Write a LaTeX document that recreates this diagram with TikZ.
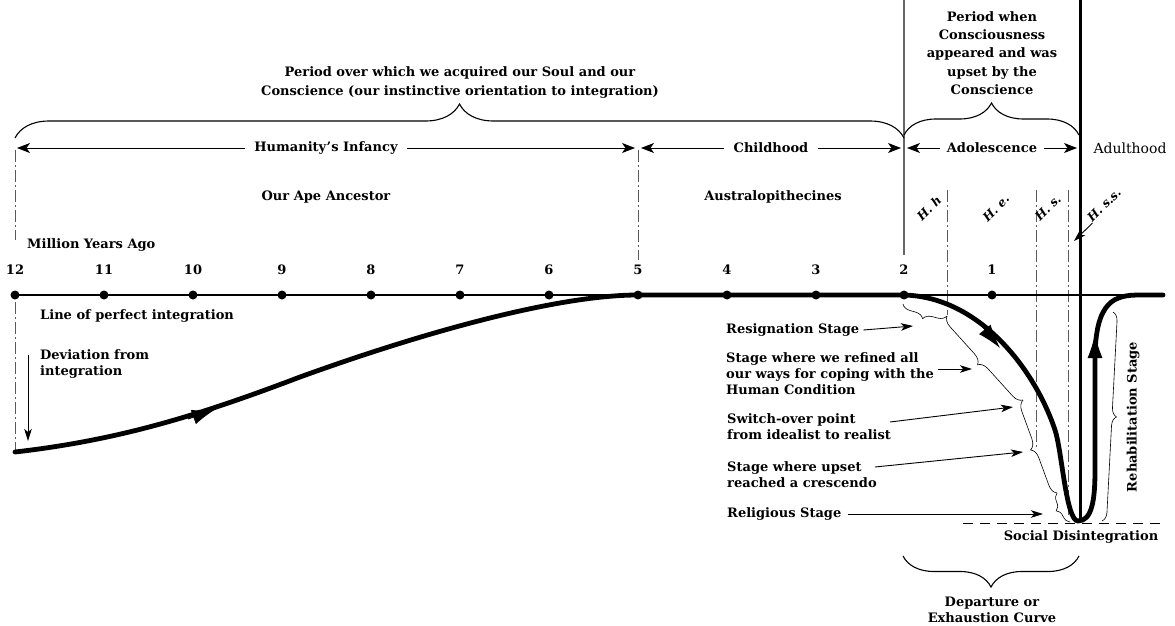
\documentclass[tikz,border=0pt]{standalone}
\usepackage{fontspec}
\setmainfont{DejaVu Serif}
\usetikzlibrary{arrows.meta,decorations.pathreplacing,calc}
\begin{document}
\begin{tikzpicture}[x=1pt,y=-1pt,
  lbl/.style={font=\bfseries\fontsize{13}{16}\selectfont, inner sep=0pt},
  reg/.style={font=\fontsize{14}{16}\selectfont, inner sep=0pt},
  hlab/.style={font=\bfseries\itshape\fontsize{12}{14}\selectfont, inner sep=0pt, rotate=45},
  per/.style={line width=0.9pt, -{Stealth[length=13pt,width=10pt,inset=3.5pt]}},
  arr/.style={line width=0.9pt, -{Stealth[length=12pt,width=7.5pt,inset=3pt]}},
  ddash/.style={line width=0.9pt, draw=black!65, dash pattern=on 12pt off 3pt on 2pt off 3pt},
  bigbrace/.style={line width=1.1pt, decorate, decoration={brace, amplitude=#1}},
  thinbrace/.style={line width=0.6pt, decorate, decoration={brace, amplitude=#1}},
  thick curve/.style={line width=4.8pt, line cap=round},
  curvetip/.style={line width=1pt, -{Latex[length=24pt,width=15pt]}},
  dot/.style={circle, fill=black, inner sep=0pt, minimum size=9pt}
]
\useasboundingbox (0,0) rectangle (1175,626);

% ---------- vertical guide lines ----------
\draw[line width=1.2pt, draw=black!60] (904,0) -- (904,255);
\draw[line width=3pt] (1080,0) -- (1080,519);
\draw[ddash] (15,150) -- (15,240);
\draw[ddash] (15,302) -- (15,450);
\draw[ddash] (638,150) -- (638,260);
\draw[ddash] (947,190) -- (947,315);
\draw[ddash] (1036,190) -- (1036,447);
\draw[ddash] (1068,190) -- (1068,515);

% ---------- top texts and braces ----------
\node[lbl, align=center, font=\bfseries\fontsize{13}{19}\selectfont] (soul) at (460,83)
  {Period over which we acquired our Soul and our\\Conscience (our instinctive orientation to integration)};
\draw[bigbrace=34pt] (15,138) -- (904,138);
\node[lbl, align=center, font=\bfseries\fontsize{13}{18.3}\selectfont] (cons) at (992,53)
  {Period when\\Consciousness\\appeared and was\\upset by the\\Conscience};
\draw[bigbrace=32pt] (904,135) -- (1079,135);

% ---------- period arrows ----------
\node[lbl] (inf) at (326,148) {Humanity's Infancy};
\coordinate (i1) at (17,148); \coordinate (i2) at (635,148);
\draw[per] ([xshift=-9pt]inf.west) -- (i1);
\draw[per] ([xshift=9pt]inf.east) -- (i2);
\node[lbl] (child) at (771,148) {Childhood};
\coordinate (c1) at (641,148); \coordinate (c2) at (901,148);
\draw[per] ([xshift=-9pt]child.west) -- (c1);
\draw[per] ([xshift=9pt]child.east) -- (c2);
\node[lbl] (adol) at (992,148) {Adolescence};
\coordinate (d1) at (907,148); \coordinate (d2) at (1077,148);
\draw[per] ([xshift=-7pt]adol.west) -- (d1);
\draw[per] ([xshift=7pt]adol.east) -- (d2);
\node[reg] (adult) at (1130,148) {Adulthood};

\node[lbl] (ape) at (326,197) {Our Ape Ancestor};
\node[lbl] (aus) at (773,197) {Australopithecines};

% ---------- H labels ----------
\node[hlab] (hh) at (929,208) {H. h};
\node[hlab] (he) at (996,208) {H. e.};
\node[hlab] (hs) at (1048,208) {H. s.};
\node[hlab] (hss) at (1104,205) {H. s.s.};
\coordinate (hssT) at (1074,241);
\draw[arr] (hss.south west) -- (hssT);

% ---------- axis ----------
\node[lbl, anchor=west] (mya) at (27,245) {Million Years Ago};
\draw[line width=2.3pt] (15,295) -- (1163,295);
\foreach \n/\x in {12/15,11/104,10/193,9/282,8/371,7/460,6/549,5/638,4/727,3/816,2/904,1/992}{
  \node[dot] (p\n) at (\x,295) {};
  \node[lbl] (n\n) at (\x,270) {\n};
}
\node[lbl, anchor=west] (lpi) at (40,316) {Line of perfect integration};
\node[lbl, anchor=north west, align=left] (dev) at (40,349) {Deviation from\\integration};
\coordinate (dv1) at (28,355); \coordinate (dv2) at (28,441);
\draw[arr] (dv1) -- (dv2);

% ---------- main thick curve ----------
\draw[thick curve] (15,452) .. controls (120,440) and (200,415) .. (300,377)
   .. controls (430,330) and (560,295) .. (638,295) -- (904,295)
   .. controls (980,297) and (1035,370) .. (1055,430)
   .. controls (1062,451) and (1066,521) .. (1078,521)
   .. controls (1092,521) and (1095,500) .. (1095,470) -- (1095,360)
   .. controls (1095,300) and (1115,295) .. (1140,295) -- (1163,295);
% arrowheads on the curve
\draw[curvetip] (188,419) -- (216,409);
\draw[curvetip] (982,326) -- (1000,348);
\draw[curvetip] (1095,366) -- (1095,334);

% ---------- thin braces along the curve ----------
\coordinate (b0) at (903,304);
\coordinate (b1) at (947,316);
\coordinate (b2) at (1023,400);
\coordinate (b3) at (1057,493);
\coordinate (b4) at (1070,522);
\draw[thinbrace=9pt] (b1) -- (b0);
\draw[thinbrace=10pt] (b2) -- (b1);
\draw[thinbrace=10pt] (b3) -- (b2);
\draw[thinbrace=8pt] (b4) -- (b3);
\draw[thinbrace=9pt] (1113,312) -- (1102,521);

% ---------- stage labels ----------
\node[lbl, anchor=west] (resig) at (726,330) {Resignation Stage};
\coordinate (aR) at (913,326);
\draw[arr] ([xshift=4pt]resig.east) -- (aR);
\node[lbl, anchor=west, align=left] (refined) at (726,374)
  {Stage where we refined all\\our ways for coping with the\\Human Condition};
\coordinate (aF) at (972,369);
\draw[arr] ($(refined.east)+(4,-5)$) -- (aF);
\node[lbl, anchor=west, align=left] (switch) at (727,427)
  {Switch-over point\\from idealist to realist};
\coordinate (sS) at (890,422); \coordinate (aS) at (1013,407);
\draw[arr] (sS) -- (aS);
\node[lbl, anchor=west, align=left] (cresc) at (727,475)
  {Stage where upset\\reached a crescendo};
\coordinate (sC) at (875,467); \coordinate (aC) at (1023,452);
\draw[arr] (sC) -- (aC);
\node[lbl, anchor=west] (relig) at (727,514) {Religious Stage};
\coordinate (aG) at (1043,514);
\draw[arr] ([xshift=6pt]relig.east) -- (aG);

\node[lbl, rotate=90] (rehab) at (1133,417) {Rehabilitation Stage};

% ---------- bottom ----------
\draw[line width=1pt, dash pattern=on 10pt off 7pt] (963,523) -- (1162,523);
\node[lbl] (sd) at (1081,537) {Social Disintegration};
\draw[bigbrace=31pt] (1079,556) -- (903,556);
\node[lbl, align=center, font=\bfseries\fontsize{13}{16.5}\selectfont] (dep) at (992,610)
  {Departure or\\Exhaustion Curve};
\end{tikzpicture}
\end{document}
